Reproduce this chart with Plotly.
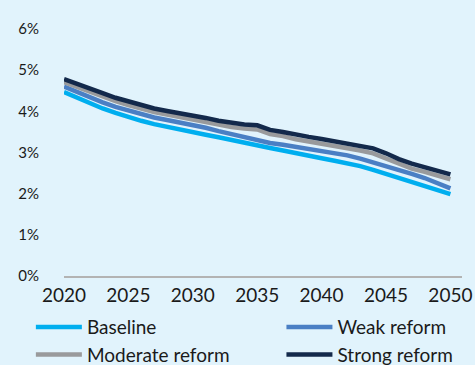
import plotly.graph_objects as go

years = list(range(2020, 2051))

baseline = [4.47, 4.33, 4.20, 4.07, 3.96, 3.86, 3.77, 3.69, 3.62, 3.56, 3.50,
            3.43, 3.37, 3.30, 3.24, 3.18, 3.11, 3.05, 2.98, 2.92, 2.86,
            2.80, 2.74, 2.67, 2.58, 2.48, 2.39, 2.29, 2.19, 2.09, 1.99]
weak = [4.60, 4.47, 4.35, 4.22, 4.11, 4.02, 3.93, 3.85, 3.79, 3.73, 3.67,
        3.60, 3.52, 3.45, 3.38, 3.31, 3.23, 3.19, 3.14, 3.10, 3.05,
        2.99, 2.93, 2.85, 2.76, 2.68, 2.58, 2.48, 2.38, 2.26, 2.13]
moderate = [4.71, 4.59, 4.47, 4.36, 4.25, 4.15, 4.06, 3.98, 3.92, 3.87, 3.80,
            3.74, 3.67, 3.62, 3.58, 3.56, 3.45, 3.40, 3.32, 3.27, 3.22,
            3.16, 3.10, 3.05, 2.98, 2.86, 2.72, 2.61, 2.53, 2.44, 2.35]
strong = [4.78, 4.66, 4.55, 4.44, 4.33, 4.24, 4.15, 4.07, 4.01, 3.96, 3.90,
          3.84, 3.77, 3.72, 3.68, 3.66, 3.55, 3.50, 3.43, 3.38, 3.33,
          3.27, 3.21, 3.16, 3.10, 2.98, 2.84, 2.73, 2.65, 2.56, 2.47]

series_names = ["Baseline", "Weak reform", "Moderate reform", "Strong reform"]
series_colors = ["#00aeef", "#4a7fc4", "#999a9c", "#13294b"]
series_values = [baseline, weak, moderate, strong]
series_legend = ["legend", "legend2", "legend", "legend2"]

x_ticks = [2020, 2025, 2030, 2035, 2040, 2045, 2050]
y_ticks = [0, 1, 2, 3, 4, 5, 6]
y_tick_labels = ["0%", "1%", "2%", "3%", "4%", "5%", "6%"]

bg = "#e1f3fc"
font_family = "Lato, 'Noto Sans', sans-serif"
text_color = "#1a1a1a"

fig = go.Figure()
for name, color, vals, lg in zip(series_names, series_colors, series_values, series_legend):
    fig.add_trace(go.Scatter(x=years, y=vals, mode="lines", name=name,
                             legend=lg, legendgroup=name,
                             line=dict(color=color, width=4.5)))

legend_common = dict(orientation="v", xref="container", yref="container",
                     yanchor="top", xanchor="left",
                     font=dict(size=19, family=font_family, color=text_color),
                     bgcolor="rgba(0,0,0,0)", tracegroupgap=0, itemwidth=46)

fig.update_layout(
    width=475, height=365,
    paper_bgcolor=bg, plot_bgcolor=bg,
    margin=dict(l=64, r=13, t=29, b=89, autoexpand=False),
    font=dict(family=font_family, color=text_color),
    showlegend=True,
    legend=dict(x=0.065, y=0.156, **legend_common),
    legend2=dict(x=0.5925, y=0.156, **legend_common),
    xaxis=dict(range=[2020, 2050.9], tickvals=x_ticks, showgrid=False,
               zeroline=False, showline=True, linecolor="#b3b3b3", linewidth=1.5,
               ticks="", tickfont=dict(size=19), ticklabelstandoff=1),
    yaxis=dict(range=[0, 6], tickvals=y_ticks, ticktext=y_tick_labels,
               showgrid=False, zeroline=False, showline=False, ticks="",
               tickfont=dict(size=15), ticklabelstandoff=24),
)

fig.write_html("out.html", config={"displayModeBar": False},
               post_script="document.body.style.margin='0';document.body.style.overflow='hidden';")
